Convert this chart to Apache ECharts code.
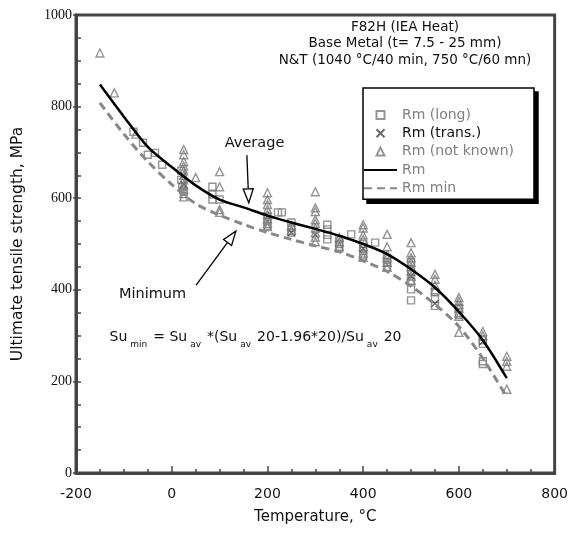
<!DOCTYPE html>
<html><head><meta charset="utf-8">
<script src="https://cdn.jsdelivr.net/npm/echarts@6/dist/echarts.min.js"></script>
<style>html,body{margin:0;padding:0;background:#fff}#c{width:571px;height:534px}</style>
</head><body><div id="c"></div>
<script>
// ---- data ----
const curveT = [-150,-100,-50,0,50,100,150,200,250,300,350,400,450,500,550,600,650,700];
const avgRm  = [848,778,712,668,628,597,580,562,547,533,518,500,478,445,405,352,290,207];
const minRm  = [808,740,680,630,588,563,543,525,510,496,483,463,440,408,368,320,250,166];

const longT  = [-80,-60,-50,-35,-20, 20,20,22,25, 85,85,85,100, 200,200,200,222,230, 250,250,250, 325,325,325,325, 350,350,350, 375, 400,400,400, 425, 450,450,450, 500,500,500,500,500, 550,550,550, 600,600, 650,650,650,650];
const longRm = [745,721,695,699,673, 660,640,625,615, 625,608,597,597, 560,550,540,569,569, 547,535,525, 542,532,520,510, 510,500,490, 521, 500,485,475, 503, 470,460,450, 460,440,420,401,377, 395,380,365, 360,345, 290,282,244,238];

const transT  = [25,25,250,300,400,500,550,650];
const transRm = [650,630,525,520,490,430,370,287];

const nkT  = [-150,-120,-75,
  25,25,25,25,25,25,25,25,25,25,25, 50, 100,100,100,100,
  200,200,200,200,200,200,200,200, 250,250,
  300,300,300,300,300,300,300,300,300, 350,350,350,
  400,400,400,400,400,400,400, 450,450,450,450,450,450,
  500,500,500,500,500,500,500,500, 550,550,550,550,
  600,600,600,600,600,600,600, 650,650, 700,700,700,700];
const nkRm = [917,830,740,
  706,695,680,670,660,650,640,630,620,610,603, 645, 658,625,575,569,
  612,597,586,575,565,555,545,538, 540,530,
  614,579,571,553,545,535,525,515,505, 514,505,495,
  542,535,520,510,495,480,471, 521,494,477,470,460,449,
  503,481,470,460,450,440,430,420, 434,423,410,400,
  383,375,368,360,350,342,307, 309,300, 255,244,233,183];

const xTicks = {min:-200, max:800, step:200};
const yTicks = {min:0, max:1000, step:200};

const titleLines = ['F82H (IEA Heat)', 'Base Metal (t= 7.5 - 25 mm)', 'N&T (1040 °C/40 min, 750 °C/60 mn)'];

// annotation anchors (data coords)
const avgLabel = [173, 720], avgArrow = [[157, 694], [161, 590]];
const minLabel = [-40, 391], minArrow = [[51, 410], [134, 528]];
const formulaAt = [-130, 297];

const zip = (a, b) => a.map((v, i) => [v, b[i]]);
const FONT = 'DejaVu Sans';
const GRAY = '#7a7a7a';
const SQ = 'path://M0,0H10V10H0Z';
const TRI = 'path://M5,0L10,10H0Z';
const XS = 'path://M0,0L10,10M10,0L0,10';

const chart = echarts.init(document.getElementById('c'), null, {renderer: 'canvas'});
const option = {
  animation: false,
  backgroundColor: '#fff',
  grid: {left: 76, right: 13, top: 15, bottom: 61, show: true, borderColor: '#444', borderWidth: 3, backgroundColor: 'transparent'},
  xAxis: {
    type: 'value', min: xTicks.min, max: xTicks.max, interval: xTicks.step,
    name: 'Temperature, °C', nameLocation: 'middle', nameGap: 37,
    nameTextStyle: {fontFamily: FONT, fontSize: 15, color: '#111'},
    axisLine: {onZero: false, lineStyle: {color: '#444', width: 3}},
    axisTick: {inside: true, length: 7, lineStyle: {color: '#444', width: 1.5}},
    minorTick: {show: true, splitNumber: 4, length: 4, lineStyle: {color: '#444', width: 1.5}},
    axisLabel: {fontFamily: FONT, fontSize: 14, color: '#111', margin: 14},
    splitLine: {show: false}
  },
  yAxis: [{
    type: 'value', min: yTicks.min, max: yTicks.max, interval: yTicks.step, position: 'left',
    name: 'Ultimate tensile strength, MPa', nameLocation: 'middle', nameGap: 50,
    nameTextStyle: {fontFamily: FONT, fontSize: 15.5, color: '#111'},
    axisLine: {onZero: false, lineStyle: {color: '#444', width: 3}},
    axisTick: {inside: false, length: 3, lineStyle: {color: '#444', width: 1.5}},
    axisLabel: {fontFamily: 'Liberation Serif', fontSize: 14, color: '#111', margin: 4, formatter: (v) => String(v)},
    splitLine: {show: false}
  }, {
    type: 'value', min: yTicks.min, max: yTicks.max, interval: 50, position: 'left',
    axisLine: {show: false, onZero: false},
    axisTick: {inside: true, length: 5, lineStyle: {color: '#444', width: 1.5}},
    axisLabel: {show: false}, splitLine: {show: false}
  }],
  legend: {
    orient: 'vertical', left: 363, top: 88,
    itemWidth: 33, itemHeight: 8, itemGap: 4.3,
    backgroundColor: '#fff', borderColor: '#000', borderWidth: 1.5,
    padding: [20, 20, 4, 0],
    textStyle: {fontFamily: FONT, fontSize: 14, color: '#808080', lineHeight: 14},
    data: [
      {name: 'Rm (long)', icon: SQ},
      {name: 'Rm (trans.)', icon: XS, textStyle: {color: '#111'}},
      {name: 'Rm (not known)', icon: TRI},
      {name: 'Rm', itemStyle: {opacity: 0}},
      {name: 'Rm min', itemStyle: {opacity: 0}}
    ]
  },
  series: [
    {name: 'Rm (long)', type: 'scatter', symbol: SQ, symbolSize: 7, data: zip(longT, longRm),
     itemStyle: {color: 'rgba(255,255,255,0)', borderColor: GRAY, borderWidth: 1.4}, z: 3},
    {name: 'Rm (trans.)', type: 'scatter', symbol: XS, symbolSize: 7, data: zip(transT, transRm),
     itemStyle: {color: 'rgba(0,0,0,0)', borderColor: '#444', borderWidth: 1.3}, z: 3},
    {name: 'Rm (not known)', type: 'scatter', symbol: TRI, symbolSize: 8, data: zip(nkT, nkRm),
     itemStyle: {color: 'rgba(255,255,255,0)', borderColor: GRAY, borderWidth: 1.4}, z: 3},
    {name: 'Rm', type: 'line', smooth: 0.3, symbol: 'none', data: zip(curveT, avgRm),
     lineStyle: {color: '#000', width: 2.5}, itemStyle: {color: '#000'}, z: 4},
    {name: 'Rm min', type: 'line', smooth: 0.3, symbol: 'none', data: zip(curveT, minRm),
     lineStyle: {color: '#888', width: 3, type: [8, 5]}, itemStyle: {color: '#888'}, z: 4}
  ]
};
chart.setOption(option);

// ---- annotations placed via the chart's own scales ----
const P = (p) => chart.convertToPixel({gridIndex: 0}, p);
function arrow(from, to) {
  const a = P(from), b = P(to);
  const ang = Math.atan2(b[1] - a[1], b[0] - a[0]);
  const L = 14, W = 5;
  const base = [b[0] - L * Math.cos(ang), b[1] - L * Math.sin(ang)];
  const nx = -Math.sin(ang), ny = Math.cos(ang);
  return [
    {type: 'line', shape: {x1: a[0], y1: a[1], x2: base[0], y2: base[1]}, style: {stroke: '#000', lineWidth: 1.3}, z: 10},
    {type: 'polygon', shape: {points: [[b[0], b[1]], [base[0] + nx * W, base[1] + ny * W], [base[0] - nx * W, base[1] - ny * W]]},
     style: {fill: '#fff', stroke: '#000', lineWidth: 1.3}, z: 10}
  ];
}
const g = [];
// legend drop shadow, sized from the rendered legend box
let lb = null;
try {
  const lv = chart._componentsViews.find(v => v && v.type === 'legend.plain');
  lb = lv.group.getBoundingRect();
  const t = lv.group;
  lb = {x: lb.x + t.x, y: lb.y + t.y, width: lb.width, height: lb.height};
} catch (e) { lb = {x: 363, y: 88, width: 172, height: 111}; }
g.push({type: 'rect', shape: {x: lb.x + 4, y: lb.y + 4, width: lb.width, height: lb.height}, style: {fill: '#000'}, z: 3, zlevel: 0});
titleLines.forEach((t, i) => g.push({type: 'text', x: 405, y: 27 + i * 16.5,
  style: {text: t, fontFamily: FONT, fontSize: 13.5, fill: '#111', align: 'center', verticalAlign: 'middle'}, z: 10}));
const al = P(avgLabel), ml = P(minLabel), fp = P(formulaAt);
g.push({type: 'text', x: al[0], y: al[1], style: {text: 'Average', fontFamily: FONT, fontSize: 14.5, fill: '#111', align: 'center', verticalAlign: 'middle'}, z: 10});
g.push({type: 'text', x: ml[0], y: ml[1], style: {text: 'Minimum', fontFamily: FONT, fontSize: 14.5, fill: '#111', align: 'center', verticalAlign: 'middle'}, z: 10});
g.push(...arrow(avgArrow[0], avgArrow[1]));
g.push(...arrow(minArrow[0], minArrow[1]));
g.push({type: 'text', x: fp[0], y: fp[1], z: 10, style: {
  text: '{a|Su}{s|min}{a|= Su}{s|av}{a|*(Su}{s|av}{a|20-1.96*20)/Su}{s|av}{a|20}',
  fontFamily: FONT, fontSize: 14, fill: '#111', align: 'left', verticalAlign: 'middle',
  rich: {
    a: {fontFamily: FONT, fontSize: 14, fill: '#111', color: '#111'},
    s: {fontFamily: FONT, fontSize: 9, fill: '#111', color: '#111', padding: [16, 6, 0, 3]}
  }}});
chart.setOption({graphic: {elements: g}});
</script></body></html>
